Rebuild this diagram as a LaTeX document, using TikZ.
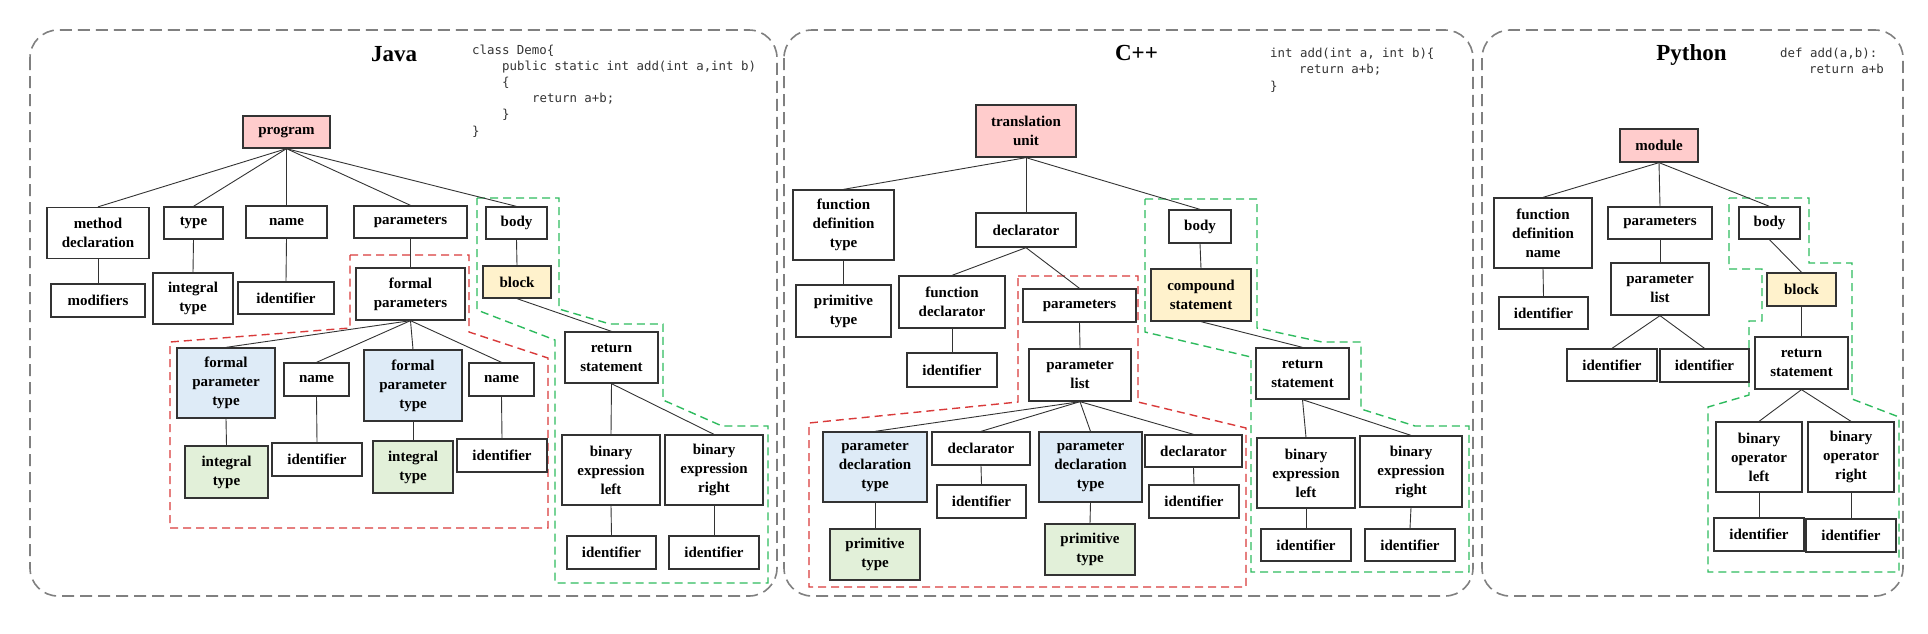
\documentclass[tikz,border=0pt]{standalone}
\usepackage{fontspec}
\setmainfont{Liberation Serif}
\newfontfamily\codefont{DejaVu Sans Mono}
\pgfdeclarelayer{back}
\pgfdeclarelayer{mid}
\pgfsetlayers{back,mid,main}
\definecolor{pinkc}{HTML}{FFCCCC}
\definecolor{bluec}{HTML}{DEEBF7}
\definecolor{greenc}{HTML}{E2F0D9}
\definecolor{yellowc}{HTML}{FFF2CC}
\definecolor{panelc}{HTML}{808080}
\definecolor{redc}{HTML}{D93A3A}
\definecolor{greend}{HTML}{2EBB5E}
\definecolor{linec}{HTML}{333333}
\definecolor{codec}{HTML}{333333}
\tikzset{
  box/.style 2 args={draw=linec, line width=1.3pt, fill=white, inner sep=0pt,
    minimum width=#1, minimum height=#2, align=center,
    font=\fontsize{15}{19}\selectfont\bfseries},
  conn/.style={draw=linec, line width=0.9pt},
  panel/.style={draw=panelc, line width=1.6pt, rounded corners=28pt, dash pattern=on 12pt off 6pt},
  redzone/.style={draw=redc, line width=1.4pt, dash pattern=on 8pt off 5pt},
  greenzone/.style={draw=greend, line width=1.4pt, dash pattern=on 8pt off 5pt},
  title/.style={anchor=base, inner sep=0pt, font=\fontsize{23}{27}\selectfont\bfseries},
  code/.style={anchor=base west, inner sep=0pt, text=codec, font=\codefont\fontsize{12.4}{16}\selectfont},
}
\begin{document}
\begin{tikzpicture}[x=1pt,y=-1pt]
\useasboundingbox (0,0) rectangle (1928,633);

% ---------- panels ----------
\begin{pgfonlayer}{back}
\draw[panel] (30,30) rectangle (777,596);
\draw[panel] (784,30) rectangle (1473,596);
\draw[panel] (1482,30) rectangle (1903,596);
% Java zones
\draw[redzone] (350,255) -- (469,255) -- (469,332) -- (548,358) -- (548,528) -- (170,528) -- (170,342) -- (350,328) -- cycle;
\draw[greenzone] (477,198) -- (559,198) -- (559,309) -- (610,324) -- (663,324) -- (663,400) -- (722,426) -- (768,426) -- (768,583) -- (555,583) -- (555,340) -- (477,310) -- cycle;
% C++ zones
\draw[redzone] (1018,276) -- (1138,276) -- (1138,402) -- (1246,428) -- (1246,587) -- (809,587) -- (809,423) -- (1018,402) -- cycle;
\draw[greenzone] (1145,199) -- (1257,199) -- (1257,328) -- (1322,342) -- (1361,342) -- (1361,409) -- (1415,426) -- (1469,426) -- (1469,572) -- (1251,572) -- (1251,357) -- (1145,332) -- cycle;
% Python zone
\draw[greenzone] (1729,198) -- (1809,198) -- (1809,263) -- (1852,263) -- (1852,399) -- (1899,417) -- (1899,572) -- (1708,572) -- (1708,407) -- (1749,395) -- (1749,321) -- (1762,321) -- (1762,269) -- (1729,269) -- cycle;
\end{pgfonlayer}

% ---------- titles and code ----------
\node[title] (tjava) at (394,61) {Java};
\node[title] (tcpp) at (1136.5,60) {C++};
\node[title] (tpy) at (1691.5,60) {Python};

\node[code] (jc1) at (472,54) {class Demo\{};
\node[code] (jc2) at (502,70) {public static int add(int a,int b)};
\node[code] (jc3) at (502,86) {\{};
\node[code] (jc4) at (532,102) {return a+b;};
\node[code] (jc5) at (502,118) {\}};
\node[code] (jc6) at (472,135) {\}};

\node[code] (cc1) at (1270,57) {int add(int a, int b)\{};
\node[code] (cc2) at (1299,73) {return a+b;};
\node[code] (cc3) at (1270,90) {\}};

\node[code] (pc1) at (1780,57) {def add(a,b):};
\node[code] (pc2) at (1809,73) {return a+b};

% ---------- Java ----------
\node[box={87}{32}, fill=pinkc] (jprog) at (286.5,132) {program};
\node[box={102}{51}] (jmd) at (98,233) {method\\declaration};
\node[box={59}{32}] (jtype) at (193.5,223) {type};
\node[box={81}{32}] (jname) at (286.5,222) {name};
\node[box={113}{32}] (jparams) at (410.5,222) {parameters};
\node[box={61}{32}] (jbody) at (516.5,223) {body};
\node[box={94}{33}] (jmod) at (98,300.5) {modifiers};
\node[box={80}{51}] (jint) at (193,298.5) {integral\\type};
\node[box={96}{32}] (jid) at (286,298) {identifier};
\node[box={109}{52}] (jfps) at (410.5,294) {formal\\parameters};
\node[box={68}{32}, fill=yellowc] (jblock) at (517,282) {block};
\node[box={98}{70}, fill=bluec] (jfpt1) at (226,383) {formal\\parameter\\type};
\node[box={65}{33}] (jname2) at (316.5,379.5) {name};
\node[box={98}{71}, fill=bluec] (jfpt2) at (413,385.5) {formal\\parameter\\type};
\node[box={65}{33}] (jname3) at (501.5,379.5) {name};
\node[box={83}{52}, fill=greenc] (jit1) at (226.5,472) {integral\\type};
\node[box={90}{33}] (jid2) at (317,459.5) {identifier};
\node[box={80}{52}, fill=greenc] (jit2) at (413,467) {integral\\type};
\node[box={90}{33}] (jid3) at (502,455.5) {identifier};
\node[box={93}{51}] (jret) at (611.5,357.5) {return\\statement};
\node[box={98}{70}] (jbel) at (611,470) {binary\\expression\\left};
\node[box={98}{70}] (jber) at (714,470) {binary\\expression\\right};
\node[box={89}{33}] (jidl) at (611.5,552.5) {identifier};
\node[box={90}{33}] (jidr) at (714,552.5) {identifier};

% ---------- C++ ----------
\node[box={100}{52}, fill=pinkc] (ctu) at (1026,131) {translation\\unit};
\node[box={101}{70}] (cfdt) at (843.5,225) {function\\definition\\type};
\node[box={100}{34}] (cdecl) at (1026,230) {declarator};
\node[box={62}{33}] (cbody) at (1200,226.5) {body};
\node[box={95}{52}] (cpt) at (843.5,311) {primitive\\type};
\node[box={106}{52}] (cfd) at (952,302) {function\\declarator};
\node[box={113}{33}] (cparams) at (1079.5,305.5) {parameters};
\node[box={100}{52}, fill=yellowc] (ccs) at (1201,295) {compound\\statement};
\node[box={90}{34}] (cid) at (952,370) {identifier};
\node[box={102}{52}] (cpl) at (1080,375) {parameter\\list};
\node[box={104}{70}, fill=bluec] (cpdt1) at (875,467) {parameter\\declaration\\type};
\node[box={98}{33}] (cdec1) at (981,448.5) {declarator};
\node[box={89}{33}] (cid1) at (981.5,501.5) {identifier};
\node[box={103}{70}, fill=bluec] (cpdt2) at (1090.5,467) {parameter\\declaration\\type};
\node[box={97}{32}] (cdec2) at (1193.5,451) {declarator};
\node[box={90}{33}] (cid2) at (1194,501.5) {identifier};
\node[box={90}{51}, fill=greenc] (cpt1) at (875,554.5) {primitive\\type};
\node[box={90}{51}, fill=greenc] (cpt2) at (1090,549.5) {primitive\\type};
\node[box={93}{51}] (cret) at (1302.5,373.5) {return\\statement};
\node[box={98}{70}] (cbel) at (1306,473) {binary\\expression\\left};
\node[box={102}{71}] (cber) at (1411,471.5) {binary\\expression\\right};
\node[box={90}{32}] (cidl) at (1306,545) {identifier};
\node[box={90}{32}] (cidr) at (1410,545) {identifier};

% ---------- Python ----------
\node[box={78}{33}, fill=pinkc] (pmod) at (1659,145.5) {module};
\node[box={98}{70}] (pfdn) at (1543,233) {function\\definition\\name};
\node[box={104}{32}] (pparams) at (1660,223) {parameters};
\node[box={61}{32}] (pbody) at (1769.5,223) {body};
\node[box={89}{32}] (pid) at (1543.5,313) {identifier};
\node[box={98}{52}] (ppl) at (1660,289) {parameter\\list};
\node[box={69}{33}, fill=yellowc] (pblock) at (1801.5,289.5) {block};
\node[box={90}{32}] (pidl) at (1612,365) {identifier};
\node[box={89}{33}] (pidr) at (1704.5,365.5) {identifier};
\node[box={93}{52}] (pret) at (1801.5,363) {return\\statement};
\node[box={86}{70}] (pbol) at (1759,457) {binary\\operator\\left};
\node[box={86}{70}] (pbor) at (1851,457) {binary\\operator\\right};
\node[box={90}{33}] (pidl2) at (1759,534.5) {identifier};
\node[box={90}{33}] (pidr2) at (1851,535.5) {identifier};

% ---------- connectors ----------
\begin{pgfonlayer}{mid}
\foreach \a/\b in {jprog/jmd, jprog/jtype, jprog/jname, jprog/jparams, jprog/jbody,
  jmd/jmod, jtype/jint, jname/jid, jparams/jfps, jbody/jblock,
  jfps/jfpt1, jfps/jname2, jfps/jfpt2, jfps/jname3,
  jfpt1/jit1, jname2/jid2, jfpt2/jit2, jname3/jid3,
  jblock/jret, jret/jbel, jret/jber, jbel/jidl, jber/jidr,
  ctu/cfdt, ctu/cdecl, ctu/cbody, cfdt/cpt, cdecl/cfd, cdecl/cparams,
  cfd/cid, cparams/cpl, cpl/cpdt1, cpl/cdec1, cpl/cpdt2, cpl/cdec2,
  cpdt1/cpt1, cdec1/cid1, cpdt2/cpt2, cdec2/cid2,
  cbody/ccs, ccs/cret, cret/cbel, cret/cber, cbel/cidl, cber/cidr,
  pmod/pfdn, pmod/pparams, pmod/pbody, pfdn/pid, pparams/ppl,
  ppl/pidl, ppl/pidr, pbody/pblock, pblock/pret, pret/pbol, pret/pbor,
  pbol/pidl2, pbor/pidr2}
  \draw[conn] (\a.south) -- (\b.north);
\end{pgfonlayer}
\end{tikzpicture}
\end{document}
